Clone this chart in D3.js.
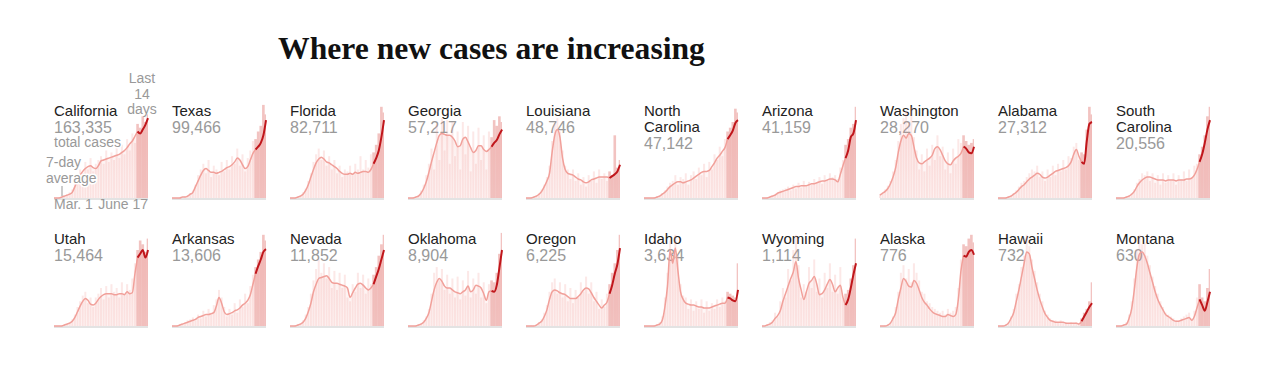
<!DOCTYPE html>
<html>
<head>
<meta charset="utf-8">
<script src="https://cdn.jsdelivr.net/npm/d3@7"></script>
<style>
  body { margin: 0; background: #fff; }
  svg { display: block; }
  .name { font-family: "Liberation Sans", Arial, sans-serif; font-size: 15px; fill: #222; }
  .total { font-family: "Liberation Sans", Arial, sans-serif; font-size: 16px; fill: #999; }
  .note { font-family: "Liberation Sans", Arial, sans-serif; font-size: 14px; fill: #999; }
  .halo { paint-order: stroke; stroke: #fff; stroke-width: 3px; stroke-linejoin: round; }
</style>
</head>
<body>
<div id="chart"></div>
<script>
// States in the order they are shown, with their total case counts
const stateNames = ['California', 'Texas', 'Florida', 'Georgia', 'Louisiana',
  'North Carolina', 'Arizona', 'Washington', 'Alabama', 'South Carolina',
  'Utah', 'Arkansas', 'Nevada', 'Oklahoma', 'Oregon',
  'Idaho', 'Wyoming', 'Alaska', 'Hawaii', 'Montana'];
const totalCases = [163335, 99466, 82711, 57217, 48746, 47142, 41159, 28270, 27312, 20556,
  15464, 13606, 11852, 8904, 6225, 3634, 1114, 776, 732, 630];

// Sampled every third day from Mar. 1 (day 0) to June 17 (day 108).
// Values are relative to each state's own peak (100 = top of the panel).
const sampleDays = d3.range(0, 109, 3);
const lastDays = 14;
const axisLabels = ['Mar. 1', 'June 17'];

// 7-day averages
const caAvg = [0,0,0,1,2,3,4,6,12,18,24,28,31,33,34,32,31,34,39,40,41,42,43,44,45,46,48,50,53,57,60,65,70,68,72,77,84];
const txAvg = [0,0,0,0,1,1,2,4,6,12,18,24,29,31,29,27,27,26,27,28,30,32,33,35,38,42,40,35,31,33,40,47,51,54,58,66,82];
const flAvg = [0,0,0,1,2,4,8,14,22,30,37,41,43,41,38,37,35,33,31,28,26,25,25,26,25,27,26,27,28,28,27,30,36,42,50,64,82];
const gaAvg = [0,0,0,1,2,5,10,17,27,38,48,58,66,68,67,66,66,64,60,54,55,62,64,59,53,48,50,55,55,51,49,51,54,58,61,67,72];
const laAvg = [0,0,0,1,2,4,7,12,18,26,48,66,72,64,42,30,26,25,24,22,20,19,17,16,17,19,20,21,22,22,22,22,21,23,25,28,35];
const ncAvg = [0,0,0,0,0,1,2,4,6,9,12,14,16,17,17,16,17,18,19,21,23,25,27,28,28,29,33,37,42,45,49,53,62,66,71,79,82];
const azAvg = [0,0,0,1,2,3,5,6,7,8,9,10,11,12,12,13,13,13,14,15,15,16,17,18,18,19,20,20,19,17,25,34,42,50,64,68,82];
const waAvg = [3,5,7,10,15,22,32,48,60,66,63,68,66,54,42,37,36,38,40,42,45,52,54,51,45,39,36,35,39,42,44,47,54,52,48,47,54];
const alAvg = [0,0,0,0,1,2,4,6,9,12,14,17,20,22,24,26,25,22,21,22,24,26,28,29,30,31,32,34,38,46,51,44,38,36,60,78,80];
const scAvg = [0,0,0,0,1,2,4,7,12,16,19,21,22,22,21,20,19,19,19,18,19,19,19,18,19,19,19,20,20,21,24,30,38,46,58,72,82];
const utAvg = [0,0,0,0,1,2,3,5,9,15,21,26,29,27,23,22,24,28,31,33,34,34,34,33,33,34,34,33,36,34,35,55,72,76,80,72,80];
const arAvg = [0,0,0,1,2,3,4,5,6,7,9,10,11,12,12,13,14,21,30,24,15,12,13,14,16,17,19,22,24,27,33,44,55,63,70,78,81];
const nvAvg = [0,0,0,1,2,4,8,15,24,36,44,50,51,52,53,50,46,45,45,44,43,42,40,30,35,40,44,45,43,40,38,40,44,52,60,70,80];
const okAvg = [0,0,0,0,1,2,4,8,14,26,38,46,50,47,42,40,40,38,36,35,34,36,38,42,36,38,43,42,40,34,27,36,37,36,43,61,80];
const orAvg = [0,0,0,0,1,3,5,10,17,28,36,38,37,35,34,33,31,29,29,29,31,34,38,40,39,35,30,26,22,19,22,25,34,43,55,65,82];
const idAvg = [0,0,0,0,0,1,2,6,20,42,80,66,82,58,36,28,24,23,22,22,21,20,20,19,19,19,20,21,22,23,24,24,30,29,27,26,38];
const wyAvg = [0,0,1,2,4,8,11,16,26,34,42,50,57,68,50,38,28,36,45,48,52,44,33,34,38,44,49,44,36,40,43,30,22,28,40,54,66];
const akAvg = [0,0,0,1,3,8,14,28,40,50,47,42,41,48,45,38,30,25,22,18,15,13,12,11,10,10,12,11,10,12,28,58,74,73,78,80,75];
const hiAvg = [0,0,0,1,3,8,14,26,38,52,66,78,76,62,50,38,28,20,13,9,6,5,4,4,4,4,3,3,3,3,3,2,5,10,15,20,24];
const mtAvg = [0,0,0,1,2,8,18,38,62,76,78,74,66,56,46,36,28,22,17,12,10,8,6,5,5,6,7,8,9,6,10,19,28,22,16,25,36];

// Reported daily cases
const caDaily = [0,0,1,1,3,4,6,9,16,22,30,26,38,30,42,28,36,40,44,36,50,38,48,40,54,42,56,46,62,50,68,58,78,74,86,80,88];
const txDaily = [0,0,0,1,1,2,3,5,8,14,24,30,36,26,40,22,34,30,24,38,28,40,30,44,36,52,34,46,28,42,50,60,62,70,76,98,88];
const flDaily = [0,0,0,1,3,6,10,18,26,38,46,52,40,50,34,44,30,40,26,34,22,30,28,34,24,36,30,44,30,40,32,46,48,56,68,96,90];
const gaDaily = [0,0,1,1,3,8,14,24,36,52,30,78,40,84,50,82,36,80,44,70,30,80,46,76,28,70,36,74,40,66,30,70,64,82,76,86,80];
const laDaily = [0,0,1,1,3,5,9,14,22,34,60,78,84,70,50,34,30,20,30,18,26,14,22,12,24,18,28,16,30,20,26,18,28,24,66,32,40];
const ncDaily = [0,0,0,0,1,2,3,5,8,12,16,18,24,14,22,20,26,14,24,28,20,32,24,36,22,38,30,46,40,54,44,62,70,74,80,94,90];
const azDaily = [0,0,1,1,3,4,6,8,9,10,12,8,14,10,16,11,18,12,17,14,20,16,22,15,24,18,26,22,24,20,32,40,56,62,74,78,96];
const waDaily = [4,6,9,13,18,28,40,60,78,84,92,80,96,64,50,30,46,28,52,34,56,40,66,44,54,30,48,26,52,36,62,58,66,60,56,58,62];
const alDaily = [0,0,0,1,2,3,5,8,12,16,18,22,26,30,28,34,22,28,18,30,22,34,24,36,28,40,30,44,42,54,58,40,48,46,72,96,88];
const scDaily = [0,0,0,1,2,3,5,9,16,20,26,24,28,18,26,16,24,14,26,16,24,18,26,14,24,20,28,18,30,22,34,36,46,54,66,86,96];
const utDaily = [0,0,0,1,2,3,4,7,12,20,26,32,36,24,30,20,30,34,40,28,42,30,44,36,40,30,46,34,44,38,50,66,80,90,86,78,92];
const arDaily = [0,0,1,2,3,4,6,7,9,6,12,8,16,10,18,14,22,28,38,30,20,10,18,12,24,14,28,20,34,24,42,54,62,70,78,96,90];
const nvDaily = [0,0,1,2,3,6,12,20,34,48,60,70,56,66,50,62,40,58,38,56,40,54,30,26,44,36,56,40,54,34,50,44,54,62,74,86,96];
const okDaily = [0,0,0,1,2,3,6,10,18,34,56,62,48,60,38,54,34,50,30,52,28,48,32,58,30,50,34,56,30,46,24,44,48,46,56,76,98];
const orDaily = [0,0,1,1,2,4,7,14,22,36,46,50,34,46,30,44,26,40,24,38,30,46,36,52,34,46,26,36,18,28,20,34,44,56,66,80,96];
const idDaily = [0,0,0,0,1,2,4,10,30,56,90,70,96,74,44,32,30,18,28,16,26,18,28,14,26,16,24,18,28,20,30,26,36,34,32,30,66];
const wyDaily = [0,0,2,4,6,14,10,26,40,30,60,48,80,96,64,30,44,36,62,40,70,36,50,30,56,40,66,36,54,34,62,28,34,38,50,64,92];
const akDaily = [0,0,1,2,4,10,20,36,56,64,50,60,46,66,56,48,36,34,26,24,20,18,16,14,16,12,18,14,16,20,40,70,86,84,92,96,88];
const hiDaily = [0,0,1,2,4,10,18,34,44,62,74,96,84,70,58,46,34,26,16,12,8,6,6,4,6,4,4,3,4,3,4,3,8,14,18,26,46];
const mtDaily = [0,0,1,2,4,12,26,50,80,96,86,88,74,64,52,42,34,26,20,14,12,10,8,6,6,8,10,12,14,8,16,30,44,30,26,40,60];

const avgSeries = [caAvg, txAvg, flAvg, gaAvg, laAvg, ncAvg, azAvg, waAvg, alAvg, scAvg,
  utAvg, arAvg, nvAvg, okAvg, orAvg, idAvg, wyAvg, akAvg, hiAvg, mtAvg];
const dailySeries = [caDaily, txDaily, flDaily, gaDaily, laDaily, ncDaily, azDaily, waDaily, alDaily, scDaily,
  utDaily, arDaily, nvDaily, okDaily, orDaily, idDaily, wyDaily, akDaily, hiDaily, mtDaily];

const width = 1280, height = 370;
const colStart = 54, colStep = 118, perRow = 10;
const chartW = 94, chartH = 95;
const rowBottoms = [198, 326];
const lastStart = sampleDays[sampleDays.length - 1] - lastDays + 1;

const svg = d3.select('#chart').append('svg')
  .attr('width', width)
  .attr('height', height);

// Faint wash under the average line
const grad = svg.append('defs').append('linearGradient')
  .attr('id', 'wash')
  .attr('x1', 0).attr('y1', 0).attr('x2', 0).attr('y2', 1);
grad.append('stop').attr('offset', '0%').attr('stop-color', 'rgb(240,140,135)').attr('stop-opacity', 0.16);
grad.append('stop').attr('offset', '100%').attr('stop-color', 'rgb(240,140,135)').attr('stop-opacity', 0.05);

const x = d3.scaleLinear().domain([0, 108]).range([0, chartW]);
const y = d3.scaleLinear().domain([0, 100]).range([chartH, 0]);
const fmt = d3.format(',');
const step = x(sampleDays[1]) - x(sampleDays[0]);

// Title
const title = svg.append('text')
  .attr('x', 278)
  .attr('y', 59)
  .style('font-family', '"Liberation Serif", "DejaVu Serif", serif')
  .style('font-weight', 'bold')
  .style('font-size', '26px')
  .style('fill', '#111')
  .text('Where new cases are increasing');
const titleLen = title.node().getComputedTextLength();
title.style('font-size', (26 * 427 / titleLen) + 'px');

const rows = stateNames.map((name, k) => ({
  name,
  total: totalCases[k],
  points: sampleDays.map((d, i) => ({ day: d, avg: avgSeries[k][i], daily: dailySeries[k][i] }))
}));

const area = d3.area()
  .x(d => x(d.day))
  .y0(chartH)
  .y1(d => y(d.avg))
  .curve(d3.curveMonotoneX);

const line = d3.line()
  .x(d => x(d.day))
  .y(d => y(d.avg))
  .curve(d3.curveMonotoneX);

rows.forEach((s, k) => {
  const col = k % perRow;
  const row = Math.floor(k / perRow);
  const g = svg.append('g')
    .attr('transform', `translate(${colStart + col * colStep},${rowBottoms[row] - chartH})`);

  // Labels sit under the marks
  const nameLines = s.name.split(' ');
  const labelTop = 12.5;
  nameLines.forEach((t, j) => {
    g.append('text').attr('class', 'name')
      .attr('x', 0).attr('y', labelTop + j * 16)
      .text(t);
  });
  g.append('text').attr('class', 'total')
    .attr('x', 0).attr('y', labelTop + 17 + (nameLines.length - 1) * 16)
    .text(fmt(s.total));

  const early = s.points.filter(d => d.day < lastStart);
  const recent = s.points.filter(d => d.day >= lastStart);

  g.append('path')
    .attr('d', area(s.points))
    .attr('fill', 'url(#wash)');

  g.append('g').selectAll('rect')
    .data(early)
    .join('rect')
    .attr('x', d => x(d.day) - 1)
    .attr('width', 2)
    .attr('y', d => y(d.daily))
    .attr('height', d => chartH - y(d.daily))
    .attr('fill', 'rgba(240,150,145,0.22)');

  g.append('g').selectAll('rect')
    .data(recent)
    .join('rect')
    .attr('x', d => Math.max(x(lastStart - 0.5), x(d.day) - step / 2))
    .attr('width', d => Math.min(chartW, x(d.day) + step / 2) - Math.max(x(lastStart - 0.5), x(d.day) - step / 2))
    .attr('y', d => y(d.daily))
    .attr('height', d => chartH - y(d.daily))
    .attr('fill', 'rgba(222,105,100,0.4)');

  g.append('rect')
    .attr('x', 0).attr('y', chartH)
    .attr('width', chartW).attr('height', 2)
    .attr('fill', '#e3e3e3');

  g.append('path')
    .attr('d', line(s.points.filter(d => d.day <= recent[0].day)))
    .attr('fill', 'none')
    .attr('stroke', '#f1a09a')
    .attr('stroke-width', 1.5);

  g.append('path')
    .attr('d', line(recent))
    .attr('fill', 'none')
    .attr('stroke', '#c0161b')
    .attr('stroke-width', 2)
    .attr('stroke-linejoin', 'round');
});

// Annotations on the first panel
const note = svg.append('g');
[['Last', 83], ['14', 99], ['days', 114]].forEach(([t, yy]) => {
  note.append('text').attr('class', 'note')
    .attr('x', colStart + x(108) - 6).attr('y', yy)
    .attr('text-anchor', 'middle')
    .text(t);
});
note.append('text').attr('class', 'note halo')
  .attr('x', colStart).attr('y', 147)
  .text('total cases');
note.append('text').attr('class', 'note halo')
  .attr('x', 46).attr('y', 167)
  .text('7-day');
note.append('text').attr('class', 'note halo')
  .attr('x', 46).attr('y', 183)
  .text('average');
note.append('line')
  .attr('x1', 62).attr('x2', 62)
  .attr('y1', 186).attr('y2', 196)
  .attr('stroke', '#999');
note.append('text').attr('class', 'note')
  .attr('x', colStart).attr('y', 209)
  .text(axisLabels[0]);
note.append('text').attr('class', 'note')
  .attr('x', colStart + chartW).attr('y', 209)
  .attr('text-anchor', 'end')
  .text(axisLabels[1]);
</script>
</body>
</html>
